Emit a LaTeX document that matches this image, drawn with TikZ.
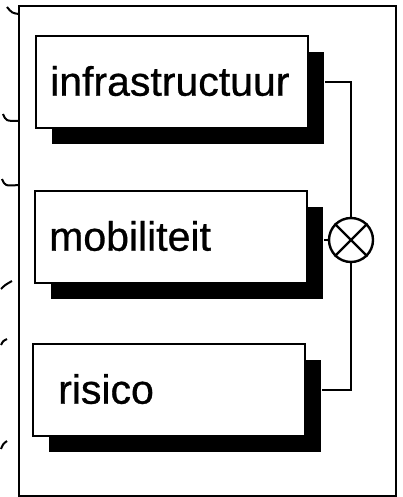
\documentclass[tikz,border=0pt]{standalone}
\usepackage{fontspec}
\setmainfont{Liberation Sans}
\newfontfamily\vakfont[FakeBold=0.7]{Liberation Sans}
\usetikzlibrary{shadows}
\tikzset{
  fac/.style ={rectangle, draw, line width=2.4pt, fill=white, anchor=north west,
               minimum width=272pt, minimum height=92pt, text width=244pt, inner xsep=14pt,
               align=left, text height=27pt, text depth=0pt, font=\vakfont\fontsize{41}{41}\selectfont,
               drop shadow={shadow xshift=16pt, shadow yshift=-16pt, fill=black, opacity=1}},
  mul/.style ={circle, draw, line width=2.4pt, minimum size=44pt, inner sep=0pt},
  frm/.style ={rectangle, draw, line width=2.2pt, anchor=north west, minimum width=377pt, minimum height=490pt},
  ln/.style  ={line width=1.5pt},
  stub/.style={line width=2pt},
}

\begin{document}
\begin{tikzpicture}[x=1pt, y=-1pt]
  \useasboundingbox (0,0) rectangle (403,497);
  \node[frm] (kader) at (18,5) {};
  \node[fac] (infra) at (35,35) {infrastructuur};
  \node[fac] (mobi) at (34,190) {mobiliteit};
  \node[fac] (risi) at (32,343) {\hspace*{11pt}risico};
  \node[mul] (som) at (351,240) {};
  \draw[line width=2.4pt] (som.north west) -- (som.south east) (som.north east) -- (som.south west);
  \draw[ln] ([xshift=16pt]infra.east) -| (som.north);
  \draw[ln] (som.west) -- ([xshift=16pt]mobi.east |- som.west);
  \draw[ln] ([xshift=16pt]risi.east) -| (som.south);
  % losse aansluitingen links
  \draw[stub] (7,7) .. controls (12,13) .. (19,14);
  \draw[stub] (3,114) .. controls (6,121) .. (19,121);
  \draw[stub] (2,179) .. controls (5,186) .. (19,185);
  \draw[stub] (1,289) .. controls (5,285) .. (12,281);
  \draw[stub] (1,345) .. controls (3,341) .. (7,339);
  \draw[stub] (1,449) .. controls (3,444) .. (7,441);
\end{tikzpicture}
\end{document}
